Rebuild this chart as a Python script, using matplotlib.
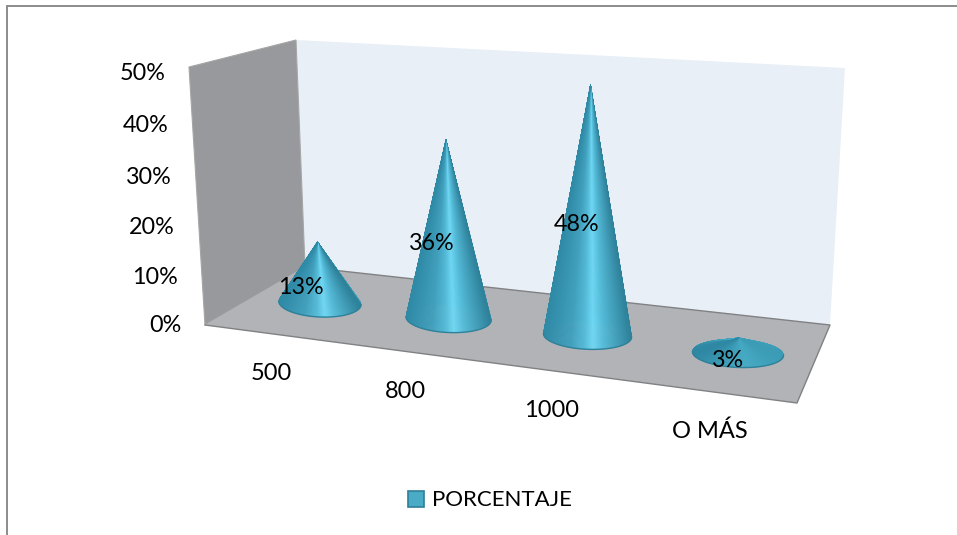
import numpy as np
import matplotlib
matplotlib.use("Agg")
import matplotlib.pyplot as plt
from matplotlib.collections import PolyCollection
from matplotlib.colors import LinearSegmentedColormap
from matplotlib.patches import Patch, Polygon

plt.rcParams['font.family'] = ['Lato', 'DejaVu Sans']

categorias = ['500', '800', '1000', 'O MÁS']
porcentaje = [13, 36, 48, 3]
ticks = [0, 10, 20, 30, 40, 50]
etiqueta_serie = 'PORCENTAJE'

# box corners on screen, used to calibrate the perspective
suelo_uv = [(0, 0), (1, 0), (1, 1), (0, 1)]
suelo_px = [(205, 325), (797, 403), (830, 325), (305, 267)]
techo_uv = [(0, 0), (0, 1), (1, 1)]
techo_px = [(189, 70), (296, 43), (845, 70)]
ymax = 50


def floor_matrix():
    a, b = [], []
    for (u, v), (x, y) in zip(suelo_uv, suelo_px):
        a.append([u, v, 1, 0, 0, 0, -u * x, -v * x])
        b.append(x)
        a.append([0, 0, 0, u, v, 1, -u * y, -v * y])
        b.append(y)
    h = np.linalg.solve(np.array(a, float), np.array(b, float))
    return np.append(h, 1).reshape(3, 3)


H = floor_matrix()


def height_column():
    a, b = [], []
    for (u, v), (x, y) in zip(techo_uv, techo_px):
        hx, hy, w = H @ np.array([u, v, 1.0])
        a.append([1, 0, -x])
        b.append(x * w - hx)
        a.append([0, 1, -y])
        b.append(y * w - hy)
    return np.linalg.lstsq(np.array(a, float), np.array(b, float), rcond=None)[0]


Z = height_column()


def project(u, v, val=0.0):
    z = val / ymax
    x = H[0, 0] * u + H[0, 1] * v + H[0, 2] + Z[0] * z
    y = H[1, 0] * u + H[1, 1] * v + H[1, 2] + Z[1] * z
    w = H[2, 0] * u + H[2, 1] * v + H[2, 2] + Z[2] * z
    return float(x / w), float(y / w)


cono_front = LinearSegmentedColormap.from_list('cono', [
    (0.00, '#2f8aa6'), (0.30, '#41a0bd'), (0.46, '#55bcd9'), (0.56, '#70d8f4'),
    (0.68, '#55bcd9'), (0.86, '#3f9ab5'), (1.00, '#2e8199')])
cono_plano = LinearSegmentedColormap.from_list('plano', [
    (0.00, '#2f88a3'), (0.35, '#3e9fba'), (0.60, '#46aac5'), (1.00, '#3c9bb5')])
cono_back = LinearSegmentedColormap.from_list('atras', [
    (0.00, '#2f88a3'), (0.5, '#4aafc9'), (1.00, '#3c9bb5')])


def draw_cone(ax, u, val, v=0.48, n=240):
    cx, cy = project(u + 0.006, v)
    tipx, tipy = project(u + 0.006, v, val)
    # base gets wider towards the front right
    a = 40.3 + 6 * u
    b = 14.0
    ang = np.linspace(0, 2 * np.pi, n + 1)
    bx = cx + a * np.cos(ang)
    by = cy + b * np.sin(ang) + 0.04 * a * np.cos(ang)
    mapa = cono_plano if tipy > cy - 2 * b else cono_front
    back, front, cb, cf = [], [], [], []
    for i in range(n):
        mid = (ang[i] + ang[i + 1]) / 2
        tri = [(tipx, tipy), (bx[i], by[i]), (bx[i + 1], by[i + 1])]
        t = (np.cos(mid) + 1) / 2
        if np.sin(mid) < 0:
            back.append(tri)
            cb.append(cono_back(t))
        else:
            front.append(tri)
            cf.append(mapa(t))
    for tris, cols, zo in ((back, cb, 3), (front, cf, 3.1)):
        ax.add_collection(PolyCollection(tris, facecolors=cols, edgecolors=cols,
                                         linewidths=0.4, zorder=zo))
    # darker rim along the front of the base
    sel = np.sin(ang) >= 0
    ax.plot(bx[sel], by[sel], color='#2f8199', lw=1.0, zorder=3.2)
    return tipx, tipy, cx, cy


fig = plt.figure(figsize=(9.57, 5.35), dpi=100)
ax = fig.add_axes([0, 0, 1, 1])
ax.set_xlim(0, 957)
ax.set_ylim(535, 0)
ax.axis('off')

# outer frame, only top and left show
ax.plot([7, 7, 957], [535, 6, 6], color='#8c8c8c', lw=1.4, solid_joinstyle='miter')

# walls and floor
fl, fr, br, bl = suelo_px
ax.add_patch(Polygon([bl, br, (845, 68), (296, 40)], fc='#e8eff6', ec='none', zorder=1))
ax.add_patch(Polygon([fl, bl, (296, 40), (189, 67)], fc='#97999c', ec='#a6a6a6',
                     lw=0.8, zorder=1.5))
ax.add_patch(Polygon(suelo_px, fc='#b1b3b6', ec='none', zorder=2))
ax.plot(*zip(fl, fr, br, bl), color='#7f8183', lw=1.0, zorder=2.1)

for t in ticks:
    x, y = project(0, 0, t)
    ax.text(x - 24, y + 1, f'{t}%', ha='right', va='center', fontsize=16.8, color='black')

pos = (np.arange(len(categorias)) + 0.5) / len(categorias)
for u, cat, val in zip(pos, categorias, porcentaje):
    tipx, tipy, x0, y0 = draw_cone(ax, u, val)
    ax.annotate(f'{val}%', ((tipx + x0) / 2, (tipy + y0) / 2),
                xytext=(-14.1 + 7.7 * u, -10.5),
                textcoords='offset points', ha='center', va='center',
                fontsize=16.8, color='black', zorder=5)
    lx, ly = project(u + 0.1005 - 0.08 * u, -0.42)
    ax.text(lx, ly + 3 - 6 * u, cat, ha='center', va='center', fontsize=17, color='black')

ax.legend(handles=[Patch(fc='#4aabc6', ec='#2f7f99', lw=1.2, label=etiqueta_serie)],
          loc='center', bbox_to_anchor=(490, 500.5), bbox_transform=ax.transData,
          frameon=False, fontsize=16, handlelength=0.72, handleheight=0.72,
          handletextpad=0.35, borderpad=0)

fig.savefig('out.png', dpi=100)
